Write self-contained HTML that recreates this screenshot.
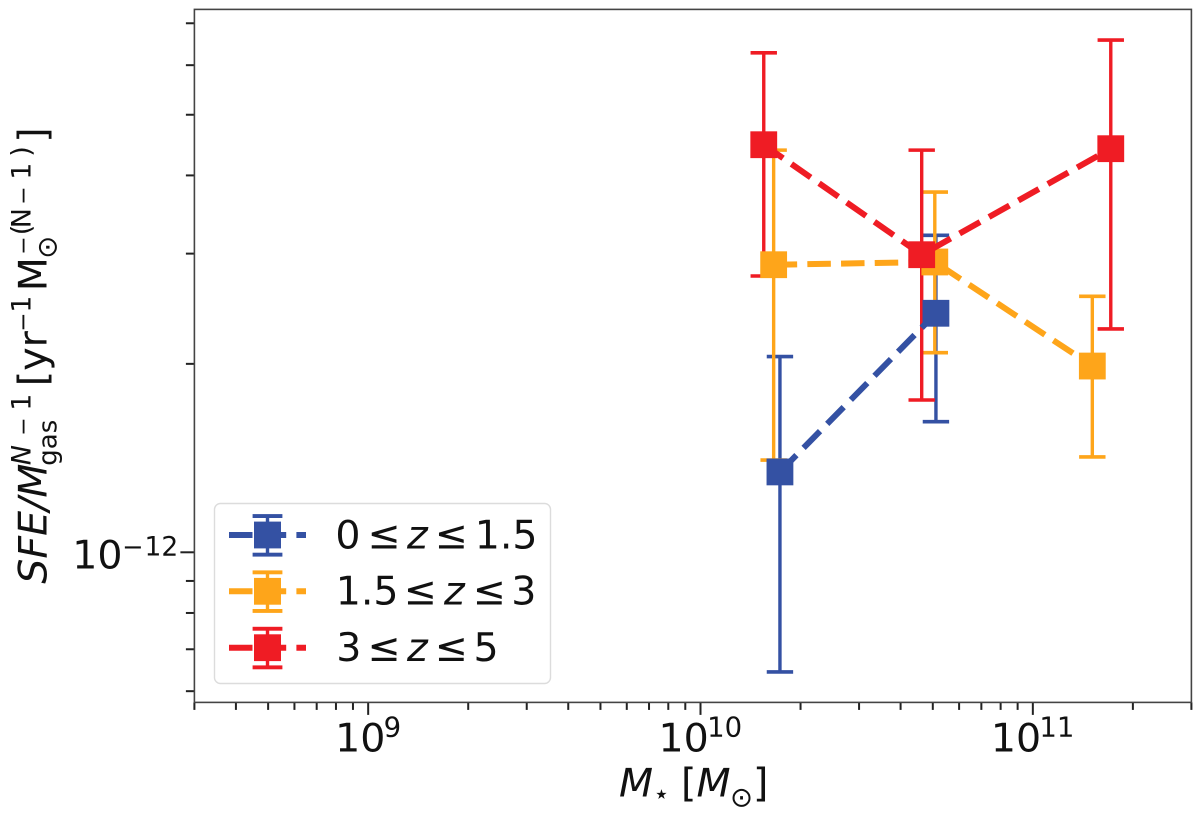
<!DOCTYPE html>
<html lang="en">
<head>
<meta charset="utf-8">
<title>SFE vs stellar mass</title>
<style>
html,body{margin:0;padding:0;background:#fff;width:1200px;height:817px;overflow:hidden}
svg{display:block}
text{font-family:"DejaVu Sans","Liberation Sans",sans-serif;fill:#111}
.it{font-style:italic}
</style>
</head>
<body>
<svg id="chart" xmlns="http://www.w3.org/2000/svg" width="1200" height="817" viewBox="0 0 1200 817">
  <g id="ticks"></g>
  <g id="errors"></g>
  <g id="series"></g>
  <rect x="194.4" y="9.4" width="997" height="693" fill="none" stroke="#444" stroke-width="1.6"/>

  <g>
    <rect x="214.5" y="503.5" width="336" height="180" rx="6" fill="#fff" fill-opacity="0.85" stroke="#dcdcdc" stroke-width="1.4"/>

    <g fill="#3451a3" stroke="#3451a3">
      <line x1="229" x2="306" y1="535" y2="535" stroke-width="6" stroke-dasharray="23.5 10.2"/>
      <line x1="267.5" x2="267.5" y1="516" y2="554.7" stroke-width="3.4"/>
      <rect x="254.5" y="516" width="26" height="0.1" stroke-width="3.8"/>
      <rect x="254.5" y="554.6" width="26" height="0.1" stroke-width="3.8"/>
      <rect x="254" y="521.6" width="27" height="26.8" stroke="none"/>
      <text y="548.3" font-size="39.5" stroke="none"><tspan x="335.4">0</tspan><tspan x="367.5">≤</tspan><tspan x="407" class="it">z</tspan><tspan x="434.8">≤</tspan><tspan x="474.7">1.5</tspan></text>
    </g>
    <g fill="#fea51a" stroke="#fea51a">
      <line x1="229" x2="306" y1="591.3" y2="591.3" stroke-width="6" stroke-dasharray="23.5 10.2"/>
      <line x1="267.5" x2="267.5" y1="572.3" y2="611" stroke-width="3.4"/>
      <rect x="254.5" y="572.3" width="26" height="0.1" stroke-width="3.8"/>
      <rect x="254.5" y="610.9" width="26" height="0.1" stroke-width="3.8"/>
      <rect x="254" y="577.9" width="27" height="26.8" stroke="none"/>
      <text y="604.5" font-size="39.5" stroke="none"><tspan x="335.7">1.5</tspan><tspan x="403.8">≤</tspan><tspan x="444" class="it">z</tspan><tspan x="472.8">≤</tspan><tspan x="511.3">3</tspan></text>
    </g>
    <g fill="#ef1c24" stroke="#ef1c24">
      <line x1="229" x2="306" y1="647.7" y2="647.7" stroke-width="6" stroke-dasharray="23.5 10.2"/>
      <line x1="267.5" x2="267.5" y1="628.7" y2="667.4" stroke-width="3.4"/>
      <rect x="254.5" y="628.7" width="26" height="0.1" stroke-width="3.8"/>
      <rect x="254.5" y="667.3" width="26" height="0.1" stroke-width="3.8"/>
      <rect x="254" y="634.3" width="27" height="26.8" stroke="none"/>
      <text y="661" font-size="39.5" stroke="none"><tspan x="336.3">3</tspan><tspan x="367.5">≤</tspan><tspan x="407" class="it">z</tspan><tspan x="434.8">≤</tspan><tspan x="473.5">5</tspan></text>
    </g>
  </g>

  <g>
    <text x="619" y="796.5" font-size="39.5" class="it">M</text>
    <text x="653" y="803" font-size="27" class="it">⋆</text>
    <text x="681" y="796.5" font-size="39.5">[</text>
    <text x="696.5" y="796.5" font-size="39.5" class="it">M</text>
    <text x="730" y="806.5" font-size="27.5">⊙</text>
    <text x="753" y="796.5" font-size="39.5">]</text>
  </g>

  <g transform="translate(46.7 581.7) rotate(-90)">
    <text x="-2" y="0" font-size="39.5" class="it">SFE/M</text>
    <text x="116.5" y="-16" font-size="27" class="it">N</text>
    <text x="146" y="-16" font-size="22">−</text>
    <text x="171" y="-16" font-size="27">1</text>
    <text x="116" y="10" font-size="26">gas</text>
    <text x="195.5" y="0" font-size="39.5">[</text>
    <text x="211" y="0" font-size="39.5">yr</text>
    <text x="250" y="-16" font-size="23">−</text>
    <text x="269" y="-16" font-size="27">1</text>
    <text x="290.5" y="0" font-size="39.5">M</text>
    <text x="323" y="10" font-size="27.5">⊙</text>
    <text x="327" y="-16" font-size="22">−</text>
    <text x="346.5" y="-16" font-size="27">(</text>
    <text x="353.5" y="-16" font-size="27">N</text>
    <text x="377" y="-16" font-size="22">−</text>
    <text x="402" y="-16" font-size="27">1</text>
    <text x="425" y="-16" font-size="27">)</text>
    <text x="439" y="0" font-size="39.5">]</text>
  </g>
</svg>
<script>
// ---- chart data (stellar mass in Msun, SFE in units of 1e-12) ----
const xMajorExponents = [9, 10, 11];
const xMinorMantissas = [2, 3, 4, 5, 6, 7, 8, 9];
const xMinorExponents = [8, 9, 10, 11];
const yMinorTicks = [0.6, 0.7, 0.8, 0.9, 2, 3, 4, 5, 6, 7];
const yMajorTicks = [1];

const blueMass = [1.734e10, 5.11e10];
const blueSfe = [1.344, 2.409];
const blueLow = [0.644, 1.617];
const blueHigh = [2.054, 3.209];

const orangeMass = [1.66e10, 5.07e10, 1.51e11];
const orangeSfe = [2.880, 2.909, 1.984];
const orangeLow = [1.404, 2.084, 1.420];
const orangeHigh = [4.39, 3.763, 2.564];

const redMass = [1.55e10, 4.63e10, 1.716e11];
const redSfe = [4.478, 2.988, 4.413];
const redLow = [2.763, 1.751, 2.274];
const redHigh = [6.28, 4.39, 6.58];

const seriesNames = ['low-z', 'mid-z', 'high-z'];
const seriesColors = ['#3451a3', '#fea51a', '#ef1c24'];

// ---- axis functions ----
const plotLeft = 194.4, plotRight = 1191.4;
const xLogMin = Math.log10(3e8), xLogMax = Math.log10(3e11);
function xScale(v) {
  return plotLeft + (Math.log10(v) - xLogMin) / (xLogMax - xLogMin) * (plotRight - plotLeft);
}
function yScale(v) {
  return 552.3 - Math.log10(v) * 626;
}

const NS = 'http://www.w3.org/2000/svg';
function make(parent, tag, attrs, txt) {
  const el = document.createElementNS(NS, tag);
  for (const k in attrs) el.setAttribute(k, attrs[k]);
  if (txt !== undefined) el.textContent = txt;
  parent.appendChild(el);
  return el;
}

const ticks = document.getElementById('ticks');
const errors = document.getElementById('errors');
const series = document.getElementById('series');
const bottom = 702.4;

// X ticks
xMinorExponents.forEach(function (e) {
  xMinorMantissas.forEach(function (m) {
    const v = m * Math.pow(10, e);
    if (v < 2.99e8 || v > 3.01e11) return;
    const px = xScale(v);
    const t = make(ticks, 'line', {x1: px, x2: px, y1: bottom, y2: bottom + 7.5, stroke: '#222', 'stroke-width': 2});
    
    
  });
});
xMajorExponents.forEach(function (e) {
  const px = xScale(Math.pow(10, e));
  const t = make(ticks, 'line', {x1: px, x2: px, y1: bottom, y2: bottom + 12.5, stroke: '#222', 'stroke-width': 2});
  
  
  const sup = String(e);
  const start = px - (24.2 + sup.length * 8.9);
  const base = make(ticks, 'text', {x: start, y: 751.7, 'font-size': 39.5}, '10');
  
  
  const exp = make(ticks, 'text', {x: start + 48.6, y: 736.7, 'font-size': 27.5}, sup);
  
  
});

// Y ticks
yMinorTicks.forEach(function (v) {
  const py = yScale(v);
  const t = make(ticks, 'line', {x1: 194.4 - 8.5, x2: 194.4, y1: py, y2: py, stroke: '#222', 'stroke-width': 2});
  
  
});
yMajorTicks.forEach(function (v) {
  const py = yScale(v);
  const t = make(ticks, 'line', {x1: 194.4 - 14, x2: 194.4, y1: py, y2: py, stroke: '#222', 'stroke-width': 2});
  
  
  const base = make(ticks, 'text', {x: 72.3, y: py + 16, 'font-size': 39.5}, '10');
  
  
  const expSign = make(ticks, 'text', {x: 122.3, y: py + 3.4, 'font-size': 25.6}, '−');
  
  
  const exp = make(ticks, 'text', {x: 144.5, y: py + 3.4, 'font-size': 26.5}, '12');
  
  
});

// Series
const allMass = [blueMass, orangeMass, redMass];
const allSfe = [blueSfe, orangeSfe, redSfe];
const allLow = [blueLow, orangeLow, redLow];
const allHigh = [blueHigh, orangeHigh, redHigh];

allMass.forEach(function (masses, s) {
  const color = seriesColors[s];
  const name = seriesNames[s];
  masses.forEach(function (m, i) {
    const px = xScale(m);
    const top = yScale(allHigh[s][i]);
    const low = yScale(allLow[s][i]);
    const bar = make(errors, 'line', {x1: px, x2: px, y1: top, y2: low, stroke: color, 'stroke-width': 3.4});
    
    
    const capTop = make(errors, 'line', {x1: px - 13.2, x2: px + 13.2, y1: top, y2: top, stroke: color, 'stroke-width': 3.6});
    
    
    const capLow = make(errors, 'line', {x1: px - 13.2, x2: px + 13.2, y1: low, y2: low, stroke: color, 'stroke-width': 3.6});
    
    
  });
});

allMass.forEach(function (masses, s) {
  const color = seriesColors[s];
  const name = seriesNames[s];
  const pts = masses.map(function (m, i) {
    return xScale(m).toFixed(2) + ',' + yScale(allSfe[s][i]).toFixed(2);
  }).join(' ');
  const line = make(series, 'polyline', {points: pts, fill: 'none', stroke: color, 'stroke-width': 6, 'stroke-dasharray': '23.5 10.2'});
  
  
  masses.forEach(function (m, i) {
    const px = xScale(m), py = yScale(allSfe[s][i]);
    const mk = make(series, 'rect', {x: px - 13.4, y: py - 13.4, width: 26.8, height: 26.8, fill: color});
    
    
  });
});
</script>
</body>
</html>
